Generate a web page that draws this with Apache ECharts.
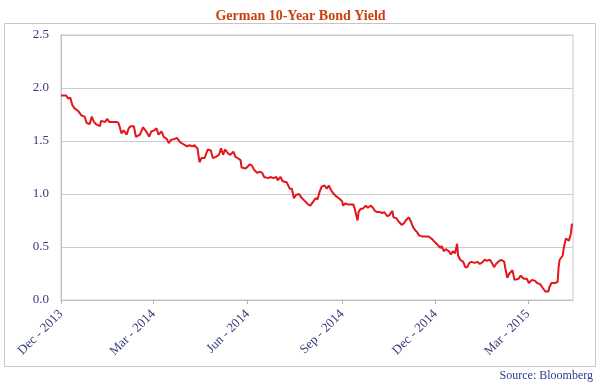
<!DOCTYPE html>
<html>
<head>
<meta charset="utf-8">
<script src="https://cdn.jsdelivr.net/npm/echarts@6/dist/echarts.min.js"></script>
<style>
html,body{margin:0;padding:0;background:#fff;}
#chart{width:601px;height:384px;}
</style>
</head>
<body>
<div id="chart"></div>
<script>
// Days since 2013-12-01
const dayOffsets = [0,5,7,9,11,13,17,20,23,25,28,30,32,34,38,39,43,45,47,51,54,56,57,59,61,64,66,68,71,73,77,80,83,86,
88,91,93,95,98,100,103,105,107,111,113,116,117,121,123,125,128,130,133,135,137,140,143,146,148,151,154,156,158,160,163,165,168,170,172,
175,176,180,182,184,186,188,191,194,196,198,202,204,207,210,211,214,216,220,223,225,227,229,232,234,237,241,243,246,248,250,252,254,257,259,261,263,
265,268,272,274,275,277,280,282,285,286,289,290,292,294,297,299,302,304,306,308,311,313,315,318,320,323,324,327,329,332,334,336,339,341,343,345,347,349,352,
354,358,361,363,366,368,370,371,373,375,378,380,382,384,386,387,389,392,394,396,398,400,403,406,408,410,413,415,418,420,422,424,426,429,432,433,435,437,440,442,446,448,451,454,456,459,462,464,467,469,472,475,476,478,481,484,485,486,489,490,492,493,495,497,498];
const yields = [1.93,1.93,1.90,1.91,1.84,1.81,1.78,1.74,1.73,1.67,1.66,1.73,1.68,1.66,1.64,1.69,1.68,1.71,1.68,1.68,1.68,1.67,1.64,1.57,1.60,1.56,1.62,1.64,1.64,1.54,1.56,1.63,1.59,1.54,
1.59,1.60,1.62,1.56,1.59,1.54,1.52,1.48,1.51,1.52,1.53,1.49,1.50,1.46,1.45,1.46,1.45,1.46,1.43,1.30,1.34,1.34,1.42,1.41,1.34,1.35,1.37,1.43,1.37,1.42,1.38,1.37,1.40,1.35,1.34,
1.32,1.25,1.24,1.26,1.28,1.27,1.23,1.20,1.21,1.20,1.16,1.15,1.16,1.15,1.16,1.13,1.16,1.12,1.11,1.05,1.05,0.96,0.99,1.00,0.97,0.94,0.90,0.89,0.93,0.96,0.95,1.02,1.07,1.08,1.05,1.08,1.04,
1.01,0.98,0.95,0.93,0.89,0.91,0.90,0.90,0.90,0.87,0.75,0.83,0.86,0.86,0.89,0.87,0.89,0.87,0.84,0.83,0.83,0.82,0.83,0.79,0.80,0.84,0.78,0.77,0.74,0.71,0.72,0.75,0.78,0.74,0.69,0.66,0.64,0.61,0.60,
0.60,0.60,0.58,0.56,0.53,0.51,0.49,0.51,0.46,0.48,0.46,0.43,0.46,0.44,0.53,0.42,0.38,0.36,0.31,0.31,0.35,0.36,0.35,0.36,0.34,0.35,0.38,0.37,0.38,0.35,0.31,0.34,0.36,0.38,0.36,0.30,0.21,0.25,0.28,0.19,0.20,0.23,0.20,0.20,0.16,0.19,0.18,0.16,0.15,0.12,0.08,0.08,0.12,0.16,0.16,0.17,0.31,0.38,0.42,0.49,0.58,0.57,0.56,0.63,0.72];
const tickDays = [0,90,182,274,365,455];
const tickLabels = ['Dec - 2013','Mar - 2014','Jun - 2014','Sep - 2014','Dec - 2014','Mar - 2015'];
const yTicks = ['0.0','0.5','1.0','1.5','2.0','2.5'];

const serif = "'Liberation Serif','DejaVu Serif',serif";
const labelColor = '#363a7c';
const chart = echarts.init(document.getElementById('chart'), null, {renderer:'canvas'});
chart.setOption({
  animation:false,
  backgroundColor:'#fff',
  title:{
    text:'German 10-Year Bond Yield',
    left:'center', top:4,
    textStyle:{fontFamily:serif,fontWeight:'bold',fontSize:14,color:'#c9400e'}
  },
  graphic:[
    {type:'rect',shape:{x:4.5,y:23.5,width:591,height:343},style:{fill:'none',stroke:'#c6c6c6',lineWidth:1},silent:true,z:-1},
    {type:'text',right:8,top:370,style:{text:'Source: Bloomberg',font:'12px '+serif,fill:'#2d3a8e'}}
  ],
  grid:{left:61,right:28,top:35,bottom:84,show:true,borderColor:'#c8c8c8',borderWidth:1},
  xAxis:{
    type:'value',min:0,max:499,
    axisLine:{show:true,lineStyle:{color:'#c0c0c0'}},
    axisTick:{show:true,length:4,lineStyle:{color:'#b0b0b0'},customValues:tickDays},
    splitLine:{show:false},
    axisLabel:{
      customValues:tickDays,rotate:45,margin:12,
      fontFamily:serif,fontSize:13,color:labelColor,
      formatter:function(v){const i=tickDays.indexOf(Math.round(v));return i>=0?tickLabels[i]:'';}
    }
  },
  yAxis:{
    type:'value',min:0,max:2.5,interval:0.5,
    axisLine:{show:true,lineStyle:{color:'#c0c0c0'}},
    axisTick:{show:false},
    splitLine:{show:true,lineStyle:{color:'#cccccc',width:1}},
    axisLabel:{margin:12,fontFamily:serif,fontSize:13,color:labelColor,
      formatter:function(v){return yTicks[Math.round(v/0.5)];}}
  },
  series:[{
    type:'line',
    data:dayOffsets.map((d,i)=>[d,yields[i]]),
    symbol:'none',
    lineStyle:{color:'#e2161b',width:2},
    itemStyle:{color:'#e2161b'}
  }]
});
</script>
</body>
</html>
